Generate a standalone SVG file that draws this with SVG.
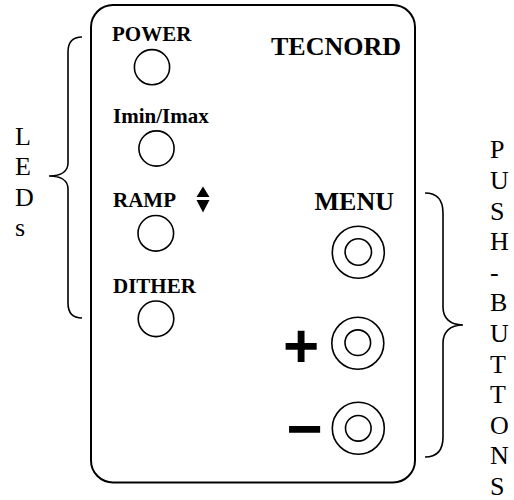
<svg xmlns="http://www.w3.org/2000/svg" width="514" height="500" viewBox="0 0 514 500">
  <style>
    .line { fill: none; stroke: #000; stroke-width: 1.6; }
    .panel { fill: #fff; stroke: #000; stroke-width: 2; }
    .lbl { font-family: "Liberation Serif", "Times New Roman", serif; font-weight: bold; fill: #000; }
    .small { font-size: 21px; }
    .big { font-size: 26px; }
    .side { font-family: "Liberation Serif", "Times New Roman", serif; font-size: 26px; fill: #000; }
    .sym { font-family: "Liberation Sans", Arial, sans-serif; font-weight: bold; font-size: 62px; fill: #000; }
  </style>
  <rect width="514" height="500" fill="#fff"/>

  <g id="panel">
    <rect class="panel" x="91" y="5" width="324" height="477.5" rx="22" ry="22"/>
    <text class="lbl big" x="271" y="55">TECNORD</text>
  </g>

  <g id="led-power">
    <text class="lbl small" x="112" y="40.5">POWER</text>
    <circle class="line" cx="152" cy="67.2" r="17.6"/>
  </g>
  <g id="led-imin-imax">
    <text class="lbl small" x="113" y="123">Imin/Imax</text>
    <circle class="line" cx="156.5" cy="148.5" r="17.6"/>
  </g>
  <g id="led-ramp">
    <text class="lbl small" x="113" y="206.5">RAMP</text>
    <polygon points="203,186.5 196.5,197 209.5,197" fill="#000"/>
    <polygon points="196.5,200 209.5,200 203,212.5" fill="#000"/>
    <circle class="line" cx="155.8" cy="233.3" r="17.8"/>
  </g>
  <g id="led-dither">
    <text class="lbl small" x="113" y="293.3">DITHER</text>
    <circle class="line" cx="156" cy="318.8" r="17.8"/>
  </g>

  <g id="btn-menu">
    <text class="lbl big" x="314.5" y="210">MENU</text>
    <circle class="line" cx="358.3" cy="252.3" r="26"/>
    <circle class="line" cx="358.3" cy="252" r="13.2"/>
  </g>
  <g id="btn-plus">
    <text class="sym" x="283" y="366.5">+</text>
    <circle class="line" cx="357.8" cy="343.3" r="26"/>
    <circle class="line" cx="357.8" cy="342.7" r="12.8"/>
  </g>
  <g id="btn-minus">
    <text class="sym" x="286.3" y="450">−</text>
    <circle class="line" cx="358.3" cy="428.3" r="26"/>
    <circle class="line" cx="358.3" cy="428.3" r="12.8"/>
  </g>

  <g id="label-leds">
    <text class="side">
      <tspan x="15" y="144.5">L</tspan>
      <tspan x="15" y="175.1">E</tspan>
      <tspan x="15" y="205.7">D</tspan>
      <tspan x="15" y="236.3">s</tspan>
    </text>
  </g>
  <g id="label-push-buttons">
    <text class="side">
      <tspan x="490" y="158.4">P</tspan>
      <tspan x="490" y="189">U</tspan>
      <tspan x="490" y="219.6">S</tspan>
      <tspan x="490" y="250.2">H</tspan>
      <tspan x="490" y="280.8">-</tspan>
      <tspan x="490" y="311.4">B</tspan>
      <tspan x="490" y="342">U</tspan>
      <tspan x="490" y="372.6">T</tspan>
      <tspan x="490" y="403.2">T</tspan>
      <tspan x="490" y="433.8">O</tspan>
      <tspan x="490" y="464.4">N</tspan>
      <tspan x="490" y="495">S</tspan>
    </text>
  </g>

  <g id="connectors">
    <path id="brace-leds" class="line" d="M82,37 C72,37 68,42 68,52 L68,163 C68,172 60,176 49,176 C60,176 68,180 68,189 L68,303 C68,313 72,318 82,318"/>
    <path id="brace-buttons" class="line" d="M425,193 C437,193 443,200 443,213 L443,307 C443,318 450,325 463,325 C450,325 443,332 443,343 L443,437 C443,450 437,457 425,457"/>
  </g>
</svg>
